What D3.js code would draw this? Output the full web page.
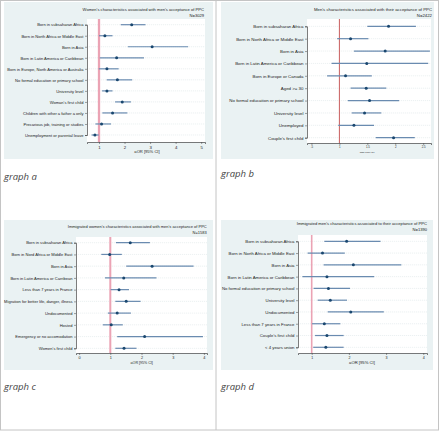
<!DOCTYPE html>
<html><head><meta charset="utf-8">
<script src="https://cdn.jsdelivr.net/npm/d3@7"></script>
<style>html,body{margin:0;padding:0;background:#fff;} svg{display:block;}</style>
</head><body><svg id="c" width="440" height="432"></svg>
<script>
// ---------- DATA ----------
const catsA = ["Born in subsaharan Africa","Born in North Africa or Middle East","Born in Asia","Born in Latin America or Caribbean","Born in Europe, North America or Australia","No formal education or primary school","University level","Woman's first child","Children with other a father a only","Precarious job, training or studies","Unemployment or parental leave"];
const estA = [2.28,1.23,3.08,1.69,1.31,1.72,1.31,1.91,1.53,1.10,0.84];
const loA  = [1.85,1.00,2.13,1.03,0.99,1.30,1.12,1.63,1.13,0.86,0.71];
const hiA  = [2.82,1.53,4.49,2.76,1.77,2.30,1.53,2.25,2.11,1.47,0.99];
const ticksA = [1,2,3,4,5];
const tickLabelsA = ["1","2","3","4","5"];
const titleA = "Women's characteristics associated with men's acceptance of PPC";
const nA = "N=3029";

const catsB = ["Born in subsaharan Africa","Born in North Africa or Middle East","Born in Asia","Born in Latin America or Caribbean","Born in Europe or Canada","Aged >= 30","No formal education or primary school","University level","Unemployed","Couple's first child"];
const estB = [1.88,1.20,1.82,1.49,1.11,1.48,1.54,1.45,1.26,1.97];
const loB  = [1.50,0.96,1.26,0.86,0.78,1.20,1.15,1.22,0.98,1.65];
const hiB  = [2.37,1.52,2.62,2.59,1.58,1.84,2.07,1.75,1.62,2.35];
const ticksB = [0.5,1,1.5,2,2.5];
const tickLabelsB = [".5","1","1.5","2","2.5"];
const titleB = "Men's characteristics associated with their acceptance of PPC";
const nB = "N=2422";

const catsC = ["Born in subsaharan Africa","Born in Nord Africa or Middle East","Born in Asia","Born in Latin America or Carribean","Less than 7 years in France","Migration for better life, danger, illness","Undocumented","Hosted","Emergency or no accomodation","Women's first child"];
const estC = [1.64,0.98,2.34,1.43,1.28,1.51,1.22,1.03,2.10,1.44];
const loC  = [1.18,0.71,1.51,0.83,1.01,1.16,0.92,0.76,1.22,1.16];
const hiC  = [2.27,1.37,3.67,2.48,1.60,1.97,1.66,1.40,3.97,1.84];
const ticksC = [0,1,2,3,4];
const tickLabelsC = ["0","1","2","3","4"];
const titleC = "Immigrated women's characteristics associated with men's acceptance of PPC";
const nC = "N=1583";

const catsD = ["Born in subsaharan Africa","Born in North Africa or Middle East","Born in Asia","Born in Latin America or Caribbean","No formal education or primary school","University level","Undocumented","Less than 7 years in France","Couple's first child","< 4 years union"];
const estD = [1.94,1.29,2.12,1.41,1.45,1.50,2.05,1.34,1.41,1.38];
const loD  = [1.34,0.89,1.32,0.75,1.05,1.16,1.43,1.01,1.09,1.04];
const hiD  = [2.85,1.89,3.41,2.68,2.03,1.95,2.94,1.77,1.86,1.86];
const ticksD = [1,2,3,4];
const tickLabelsD = ["1","2","3","4"];
const titleD = "Immigrated men's characteristics associated to their acceptance of PPC";
const nD = "N=1390";

const xLabel = "aOR [95% CI]";
const captions = ["graph a","graph b","graph c","graph d"];

// ---------- DRAW ----------
const svg = d3.select("#c");
const FONT = "Liberation Sans, Arial, sans-serif";
const BG = "#eaf2f3";

function panel(cfg){
  const g = svg.append("g");
  g.append("rect").attr("x",cfg.bg[0]).attr("y",cfg.bg[1])
    .attr("width",cfg.bg[2]-cfg.bg[0]).attr("height",cfg.bg[3]-cfg.bg[1]).attr("fill",BG);
  g.append("rect").attr("x",cfg.l).attr("y",cfg.t).attr("width",cfg.r-cfg.l).attr("height",cfg.b-cfg.t)
    .attr("fill","#fff");
  const x = d3.scaleLinear().domain(cfg.xdom).range([cfg.l,cfg.r]);
  const y = d3.scalePoint().domain(cfg.cats).range(cfg.rows);
  // grid lines
  g.append("g").selectAll("line").data(cfg.cats).join("line")
    .attr("x1",cfg.l).attr("x2",cfg.r).attr("y1",d=>y(d)).attr("y2",d=>y(d))
    .attr("stroke","#dfe7ea").attr("stroke-width",0.6).attr("stroke-dasharray","1.2,0.8");
  // reference line at 1
  g.append("line").attr("x1",x(1)).attr("x2",x(1)).attr("y1",cfg.t).attr("y2",cfg.b)
    .attr("stroke",cfg.refColor).attr("stroke-width",cfg.refW);
  // CI
  const rows = cfg.cats.map((c,i)=>({c,e:cfg.est[i],lo:cfg.lo[i],hi:cfg.hi[i]}));
  g.append("g").selectAll("line").data(rows).join("line")
    .attr("x1",d=>x(d.lo)).attr("x2",d=>x(d.hi)).attr("y1",d=>y(d.c)).attr("y2",d=>y(d.c))
    .attr("stroke","#6a8bb0").attr("stroke-width",cfg.ciW);
  g.append("g").selectAll("circle").data(rows).join("circle")
    .attr("cx",d=>x(d.e)).attr("cy",d=>y(d.c)).attr("r",cfg.ptR).attr("fill","#1a476f");
  // axes
  const ax = d3.axisBottom(x).tickValues(cfg.ticks).tickSize(2).tickPadding(1.5)
    .tickFormat((d,i)=>cfg.tickLabels[i]);
  const xa = g.append("g").attr("transform",`translate(0,${cfg.b})`).call(ax);
  xa.select(".domain").attr("stroke","#444").attr("stroke-width",0.7);
  xa.selectAll(".tick line").attr("stroke","#444").attr("stroke-width",0.5);
  xa.selectAll(".tick text").attr("font-size",cfg.tickFs).attr("font-family",FONT).attr("fill","#222");
  const ay = d3.axisLeft(y).tickSize(2).tickPadding(1.5);
  const ya = g.append("g").attr("transform",`translate(${cfg.l},0)`).call(ay);
  ya.select(".domain").attr("stroke","#444").attr("stroke-width",0.7);
  ya.selectAll(".tick line").attr("stroke","#444").attr("stroke-width",0.5);
  ya.selectAll(".tick text").attr("font-size",cfg.labFs).attr("font-family",FONT).attr("fill","#222");
  // titles
  g.append("text").attr("x",cfg.titleX).attr("y",cfg.titleY).attr("text-anchor","end")
    .attr("font-size",cfg.titleFs).attr("font-family",FONT).attr("fill","#222").text(cfg.title);
  g.append("text").attr("x",cfg.titleX).attr("y",cfg.nY).attr("text-anchor","end")
    .attr("font-size",cfg.titleFs).attr("font-family",FONT).attr("fill","#222").text(cfg.n);
  g.append("text").attr("x",cfg.xlabX).attr("y",cfg.xlabY).attr("text-anchor","middle")
    .attr("font-size",cfg.xlabFs).attr("font-family",FONT).attr("fill","#222").text(xLabel);
  g.append("text").attr("x",cfg.capX).attr("y",cfg.capY).attr("font-size",9.5)
    .attr("font-style","italic").attr("font-family","Open Sans, sans-serif").attr("fill","#444").text(cfg.cap);
}

panel({cats:catsA,est:estA,lo:loA,hi:hiA,ticks:ticksA,tickLabels:tickLabelsA,title:titleA,n:nA,cap:captions[0],
  bg:[4,2,213,159], l:87,t:19,r:205,b:142, rows:[24.7,135], xdom:[0.53,5.15],
  titleX:204,titleY:10.5,nY:16.5,xlabX:147,xlabY:152.5,tickFs:4.3,labFs:4.05,titleFs:4.1,xlabFs:4.1,
  refColor:"#eba3b4",refW:2.3,ciW:1.2,ptR:1.5,capX:4,capY:180});
panel({cats:catsB,est:estB,lo:loB,hi:hiB,ticks:ticksB,tickLabels:tickLabelsB,title:titleB,n:nB,cap:captions[1],
  bg:[221,2,434,159], l:307,t:19,r:431,b:143, rows:[26.3,137.7], xdom:[0.42,2.64],
  titleX:432,titleY:10.5,nY:16.5,xlabX:367,xlabY:153,tickFs:2.8,labFs:4.4,titleFs:4.3,xlabFs:2.4,
  refColor:"#c24b4b",refW:0.9,ciW:1.2,ptR:1.5,capX:221,capY:177});
panel({cats:catsC,est:estC,lo:loC,hi:hiC,ticks:ticksC,tickLabels:tickLabelsC,title:titleC,n:nC,cap:captions[2],
  bg:[4,220,213,370], l:76,t:237,r:207,b:353, rows:[242.7,348.3], xdom:[-0.1,4.1],
  titleX:206.7,titleY:228,nY:234,xlabX:141.7,xlabY:364,tickFs:3.8,labFs:4.05,titleFs:4.0,xlabFs:3.6,
  refColor:"#eba3b4",refW:2.0,ciW:1.2,ptR:1.5,capX:4,capY:390});
panel({cats:catsD,est:estD,lo:loD,hi:hiD,ticks:ticksD,tickLabels:tickLabelsD,title:titleD,n:nD,cap:captions[3],
  bg:[221,220,433,370], l:298,t:235,r:427,b:353, rows:[241.3,347.3], xdom:[0.632,4.1],
  titleX:427,titleY:224.5,nY:230.5,xlabX:362,xlabY:363.5,tickFs:3.6,labFs:4.3,titleFs:4.1,xlabFs:4.2,
  refColor:"#eba3b4",refW:1.6,ciW:1.2,ptR:1.5,capX:221,capY:390});

// frame
const fr = svg.append("g").attr("fill","none").attr("stroke","#c4c4c4");
fr.append("rect").attr("x",0.5).attr("y",0.5).attr("width",438).attr("height",429.5).attr("stroke-width",1);
fr.append("line").attr("x1",216).attr("x2",216).attr("y1",0).attr("y2",430).attr("stroke-width",1);
</script></body></html>
